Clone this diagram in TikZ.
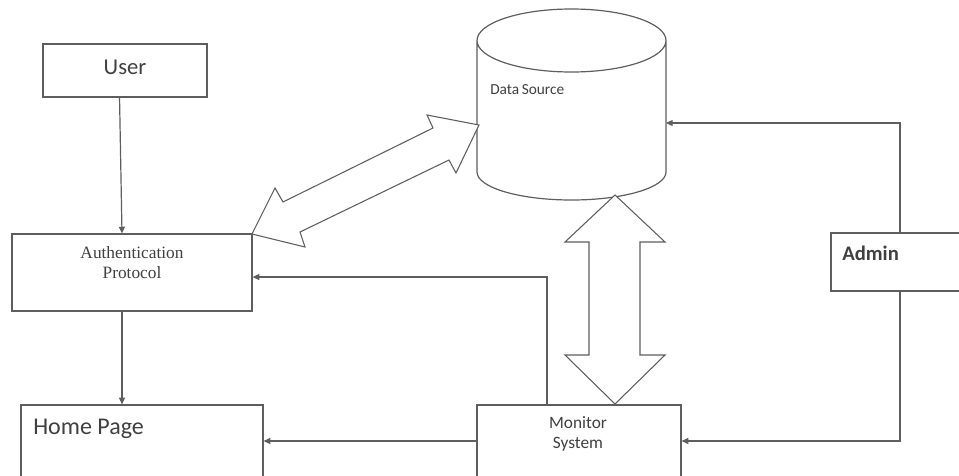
\documentclass[tikz,border=0pt]{standalone}
\usepackage{fontspec}
\setsansfont{Carlito}
\setmainfont{Liberation Serif}
\usetikzlibrary{arrows.meta,fit,calc}
\definecolor{lc}{HTML}{5E5E5E}
\definecolor{tc}{HTML}{404040}
\begin{document}
\begin{tikzpicture}[x=0.75pt,y=-0.75pt,
  box/.style={draw=lc,line width=0.9pt,rectangle,inner sep=0pt},
  lk/.style={draw=lc,line width=0.9pt,-{Triangle[length=5pt,width=4.5pt]}},
  blk/.style={draw=lc,line width=0.8pt,fill=white,line join=miter},
  sf/.style={text=tc,font=\sffamily,inner sep=0pt},
  rm/.style={text=tc,font=\rmfamily,inner sep=0pt}]
\useasboundingbox (0,0) rectangle (959,475);
\clip (0,0) rectangle (959,475);
% boxes
\node[box,fit={(43,44) (207,97)}] (user) {};
\node[sf,font=\sffamily\fontsize{17}{20}\selectfont] (usert) at (125,67) {User};
\node[box,fit={(12,234) (252,311)}] (auth) {};
\node[rm,font=\rmfamily\fontsize{13}{15}\selectfont,anchor=base] (autht1) at (132,258) {Authentication};
\node[rm,font=\rmfamily\fontsize{13}{15}\selectfont,anchor=base] (autht2) at (132,278) {Protocol};
\node[box,fit={(21,405) (263,495)}] (home) {};
\node[sf,font=\sffamily\fontsize{18}{21}\selectfont,anchor=base west] (homet) at (33,434) {Home Page};
\node[box,fit={(477,405) (681,495)}] (mon) {};
\node[sf,font=\sffamily\fontsize{13}{15}\selectfont,anchor=base] (mont1) at (578,428) {Monitor};
\node[sf,font=\sffamily\fontsize{13}{15}\selectfont,anchor=base] (mont2) at (578,448) {System};
\node[box,fit={(831,233) (969,291)}] (admin) {};
\node[sf,font=\sffamily\bfseries\fontsize{15.5}{18}\selectfont,anchor=base west] (admint) at (842,260) {Admin};
% cylinder (data source)
\draw[lc,line width=0.9pt,fill=white] (477,40.5) -- (477,172) arc[start angle=180,end angle=0,x radius=94.5,y radius=28] -- (666,40.5) arc[start angle=0,end angle=360,x radius=94.5,y radius=31.5];
\node[sf,font=\sffamily\fontsize{11.5}{13}\selectfont,anchor=base west] (dst) at (490,94) {Data\,Source};
\coordinate (dsr) at (666,123);
% connectors
\draw[lk] ([xshift=-4.1pt]user.south) -- ([xshift=-7.5pt]auth.north);
\draw[lk] ([xshift=-7.5pt]auth.south) -- ([xshift=-7.5pt]auth.south |- home.north);
\draw[lk] ([yshift=6.75pt]mon.west) -- ([yshift=6.75pt]mon.west -| home.east);
\draw[lk] ([xshift=-24pt]mon.north) |- ([yshift=-3.4pt]auth.east);
\draw[lk] (admin.north) |- (dsr);
\draw[lk] (admin.south) |- ([yshift=6.75pt]mon.east);
% block double arrows
\draw[blk] (252,234) -- (275,188) -- (283,202) -- (433,128) -- (427,115) -- (479,125)
  -- (456,173) -- (449,160) -- (300,232) -- (305,247) -- cycle;
\draw[blk] (615,195) -- (665,242) -- (640,242) -- (640,355) -- (665,355) -- (615,404)
  -- (565,355) -- (589,355) -- (589,242) -- (565,242) -- cycle;
\end{tikzpicture}
\end{document}
